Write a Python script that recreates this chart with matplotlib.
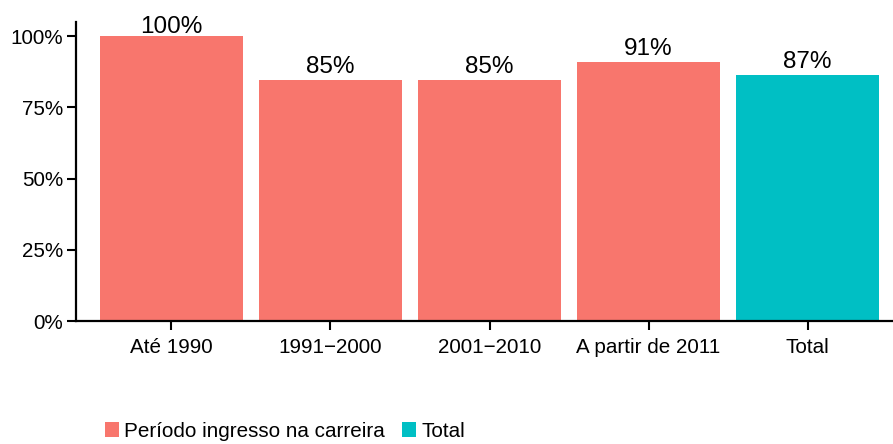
import matplotlib

matplotlib.use("Agg")
import matplotlib.pyplot as plt
import numpy as np
from matplotlib.patches import Patch

plt.rcParams["font.family"] = ["Liberation Sans", "DejaVu Sans"]

# --- data -------------------------------------------------------------------
categories = ["Até 1990", "1991\u22122000", "2001\u22122010", "A partir de 2011", "Total"]
values = [100.0, 84.7, 84.7, 90.9, 86.5]
labels = ["100%", "85%", "85%", "91%", "87%"]
groups = ["Período ingresso na carreira"] * 4 + ["Total"]
yticks = [0, 25, 50, 75, 100]
ytick_labels = ["0%", "25%", "50%", "75%", "100%"]

colors = {"Período ingresso na carreira": "#F8766D", "Total": "#00BFC4"}

# --- figure -----------------------------------------------------------------
W, H = 893, 444
fig = plt.figure(figsize=(W / 100, H / 100), dpi=100)
# axes runs past the right edge, as in the original
ax = fig.add_axes([76 / W, (H - 321) / H, (903 - 76) / W, (321 - 22) / H])

x = np.arange(len(categories))
ax.bar(x, values, width=0.9, color=[colors[g] for g in groups])

# labels sit a little above each bar, squeezed under the ceiling for 100%
label_y = np.minimum(np.array(values) + 2.4, 101.3)
for xi, ly, txt in zip(x, label_y, labels):
    ax.text(xi, ly, txt, ha="center", va="baseline", fontsize=17.5,
            color="black")

ax.set_xlim(-0.6, len(categories) - 0.4)
ax.set_ylim(0, 105)
ax.set_xticks(x)
ax.set_xticklabels(categories)
ax.set_yticks(yticks)
ax.set_yticklabels(ytick_labels)

for side in ("top", "right"):
    ax.spines[side].set_visible(False)
for side in ("left", "bottom"):
    ax.spines[side].set_linewidth(1.6)
ax.tick_params(axis="both", length=6.5, width=1.5, labelsize=14.9,
               colors="black")
ax.tick_params(axis="x", pad=6)
ax.tick_params(axis="y", pad=2.5)

handles = [Patch(facecolor=c, edgecolor="none") for c in colors.values()]
fig.legend(handles, list(colors.keys()), loc="center",
           bbox_to_anchor=(285 / W, 1 - 431 / H), ncol=2, frameon=False,
           fontsize=14.9, handlelength=0.7, handleheight=0.7,
           handletextpad=0.25, columnspacing=0.8, borderaxespad=0)

fig.savefig("out.png", dpi=100)
